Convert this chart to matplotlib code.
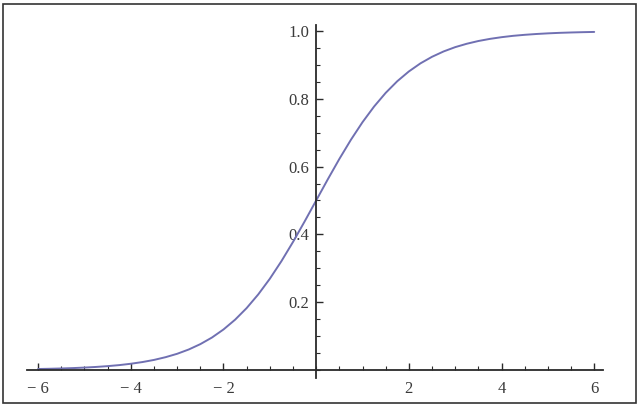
import matplotlib
matplotlib.use("Agg")
import matplotlib.pyplot as plt
from matplotlib.patches import Rectangle
from matplotlib.ticker import MultipleLocator, FixedLocator

x_vals = [-6, -5.75, -5.5, -5.25, -5, -4.75, -4.5, -4.25, -4, -3.75, -3.5, -3.25,
          -3, -2.75, -2.5, -2.25, -2, -1.75, -1.5, -1.25, -1, -0.75, -0.5, -0.25,
          0, 0.25, 0.5, 0.75, 1, 1.25, 1.5, 1.75, 2, 2.25, 2.5, 2.75,
          3, 3.25, 3.5, 3.75, 4, 4.25, 4.5, 4.75, 5, 5.25, 5.5, 5.75, 6]
y_vals = [0.0025, 0.0032, 0.0041, 0.0052, 0.0067, 0.0086, 0.0110, 0.0140, 0.0180,
          0.0230, 0.0293, 0.0374, 0.0474, 0.0601, 0.0759, 0.0953, 0.1192, 0.1480,
          0.1824, 0.2227, 0.2689, 0.3208, 0.3775, 0.4378, 0.5000, 0.5622, 0.6225,
          0.6792, 0.7311, 0.7773, 0.8176, 0.8520, 0.8808, 0.9047, 0.9241, 0.9399,
          0.9526, 0.9626, 0.9707, 0.9770, 0.9820, 0.9860, 0.9890, 0.9914, 0.9933,
          0.9948, 0.9959, 0.9968, 0.9975]
x_ticks = [-6, -4, -2, 2, 4, 6]
x_tick_labels = ["\u2212 6", "\u2212 4", "\u2212 2", "2", "4", "6"]
y_ticks = [0.2, 0.4, 0.6, 0.8, 1.0]
y_tick_labels = ["0.2", "0.4", "0.6", "0.8", "1.0"]

plt.rcParams['font.family'] = ['Liberation Serif', 'DejaVu Serif']

fig = plt.figure(figsize=(6.4, 4.07), dpi=100)
fig.patch.set_facecolor('white')
ax = fig.add_axes([0.0422, 0.0713, 0.900, 0.8673])

ax.plot(x_vals, y_vals, color='#7070b2', lw=1.4, solid_capstyle='round')

ax.set_xlim(-6.24, 6.19)
ax.set_ylim(-0.024, 1.018)

for s in ['top', 'right']:
    ax.spines[s].set_visible(False)
ax.spines['left'].set_position(('data', 0))
ax.spines['bottom'].set_position(('data', 0))
for s in ['left', 'bottom']:
    ax.spines[s].set_color('#2a2a2a')
    ax.spines[s].set_linewidth(1.3)

ax.xaxis.set_major_locator(FixedLocator(x_ticks))
ax.set_xticklabels(x_tick_labels)
ax.xaxis.set_minor_locator(MultipleLocator(0.5))
ax.yaxis.set_major_locator(FixedLocator(y_ticks))
ax.set_yticklabels(y_tick_labels)
ax.yaxis.set_minor_locator(MultipleLocator(0.05))

ax.tick_params(which='both', direction='in', color='#2a2a2a', labelcolor='#3a3a3a', labelsize=12)
ax.tick_params(which='major', length=5, width=1.0)
ax.tick_params(which='minor', length=3, width=0.8)
ax.tick_params(axis='x', which='major', pad=8)
ax.tick_params(axis='y', which='major', pad=5)

fig.patches.append(Rectangle((3/640, 4/407), 633/640, 399/407, transform=fig.transFigure,
                             fill=False, edgecolor='#333333', linewidth=1.2))

fig.savefig('out.png', dpi=100)
